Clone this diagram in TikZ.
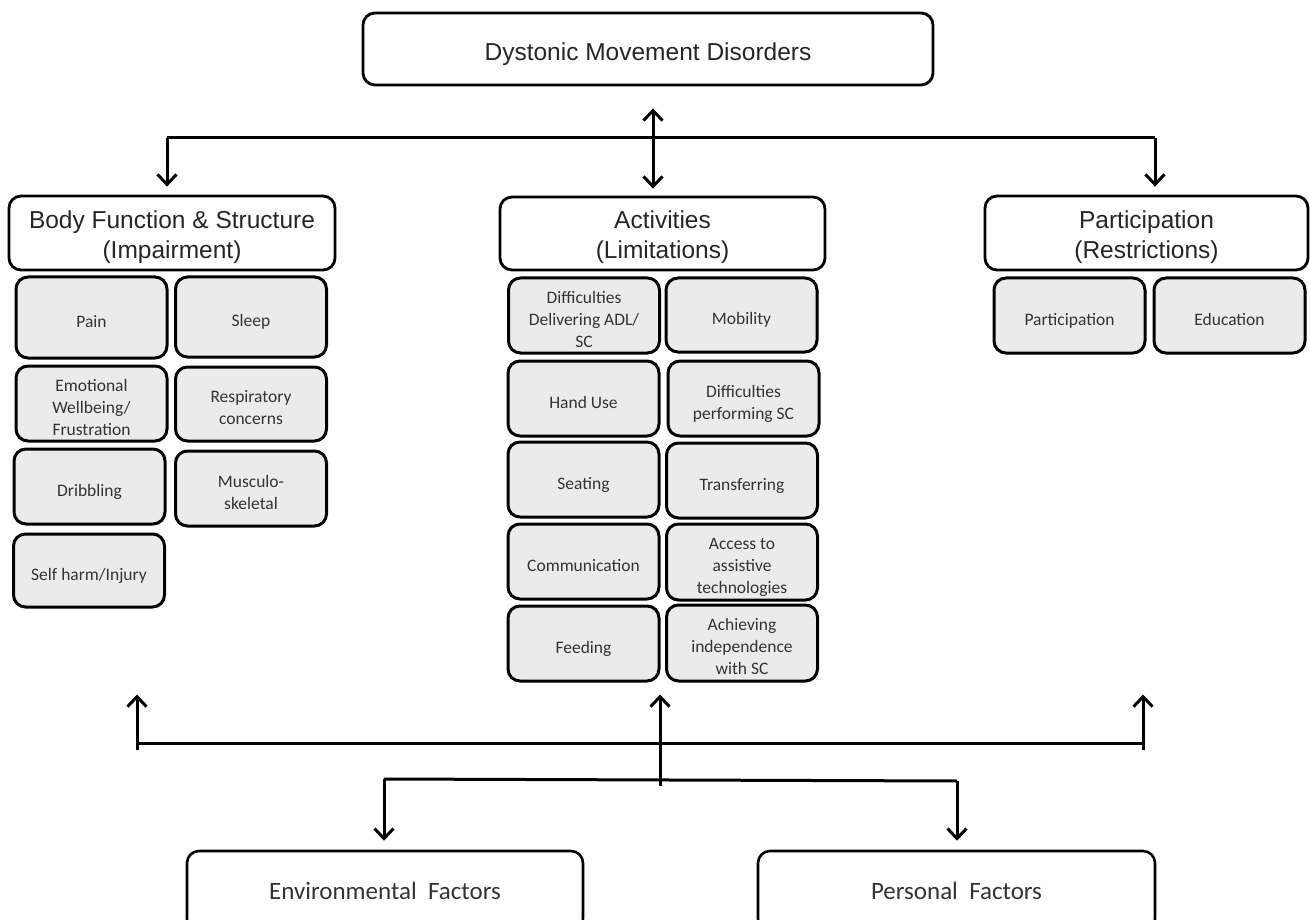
\documentclass[tikz,border=0pt]{standalone}
\usepackage{fontspec}
\setmainfont{Liberation Sans}
\newfontfamily\calfont{Carlito}
\usetikzlibrary{arrows.meta,calc}
\newcommand\myTopS{\rule{0pt}{29pt}}
\newcommand\myHeadS{\rule{0pt}{26pt}}
\newcommand\mySmS{\rule{0pt}{24pt}}
\newcommand\myDep{\rule[-5pt]{0pt}{5pt}}
\begin{document}
\begin{tikzpicture}[x=1pt,y=-1pt,
  hbox/.style={draw, line width=2.8pt, rounded corners=12pt, fill=white, align=center, text=black!85,
     font=\fontsize{24.5}{30}\selectfont, inner sep=0pt},
  sbox/.style={draw, line width=3pt, rounded corners=12pt, fill=black!8, align=center, text=black!80,
     minimum width=151pt, inner sep=0pt, font=\calfont\fontsize{17.5}{22}\selectfont},
  fbox/.style={draw, line width=2.6pt, rounded corners=12pt, fill=white, text=black!80,
     minimum width=396pt, minimum height=80pt, inner sep=0pt, font=\calfont\fontsize{25}{30}\selectfont},
  conn/.style={line width=3pt},
  arr/.style={line width=3pt, -{Straight Barb[length=10pt,width=19pt]}},
  arrb/.style={line width=3pt, {Straight Barb[length=10pt,width=19pt]}-{Straight Barb[length=10pt,width=19pt]}}
]
\clip (0,0) rectangle (1310,920);
\fill[white] (0,0) rectangle (1310,920);

% top
\node[hbox, minimum width=570pt, minimum height=72pt] (top) at (648,49) {\myTopS Dystonic Movement Disorders\myDep};

% headings
\node[hbox, minimum width=326pt, minimum height=74pt] (body) at (172,233) {\myHeadS Body Function \& Structure\\(Impairment)\myDep};
\node[hbox, minimum width=325pt, minimum height=73pt] (act) at (662.5,233.5) {\myHeadS Activities\\(Limitations)\myDep};
\node[hbox, minimum width=323pt, minimum height=74pt] (part) at (1146.5,233) {\myHeadS Participation\\(Restrictions)\myDep};

% body function boxes
\node[sbox, minimum height=81pt] (pain) at (91.5,317.5) {\mySmS Pain\myDep};
\node[sbox, minimum height=80pt] (sleep) at (251,317) {\mySmS Sleep\myDep};
\node[sbox, minimum height=75pt] (emo) at (91.5,403.5) {\mySmS Emotional\\Wellbeing/\\Frustration\myDep};
\node[sbox, minimum height=74pt] (resp) at (251,404) {\mySmS Respiratory\\concerns\myDep};
\node[sbox, minimum height=75pt] (drib) at (89.5,486.5) {\mySmS Dribbling\myDep};
\node[sbox, minimum height=75pt] (musc) at (251,488.5) {\mySmS Musculo-\\skeletal\myDep};
\node[sbox, minimum height=73pt] (self) at (89,570.5) {\mySmS Self harm/Injury\myDep};

% activities boxes
\node[sbox, minimum height=75pt] (deliv) at (584,315.5) {\mySmS Difficulties\\Delivering ADL/\\SC\myDep};
\node[sbox, minimum height=74pt] (mob) at (741.5,315) {\mySmS Mobility\myDep};
\node[sbox, minimum height=75pt] (hand) at (583.5,398.5) {\mySmS Hand Use\myDep};
\node[sbox, minimum height=75pt] (perf) at (743.5,398.5) {\mySmS Difficulties\\performing SC\myDep};
\node[sbox, minimum height=75pt] (seat) at (583.5,479.5) {\mySmS Seating\myDep};
\node[sbox, minimum height=75pt] (trans) at (742,480.5) {\mySmS Transferring\myDep};
\node[sbox, minimum height=75pt] (comm) at (583.5,561.5) {\mySmS Communication\myDep};
\node[sbox, minimum height=76pt] (acc) at (742,562) {\mySmS Access to\\assistive\\technologies\myDep};
\node[sbox, minimum height=75pt] (feed) at (583.5,643.5) {\mySmS Feeding\myDep};
\node[sbox, minimum height=76pt] (ach) at (742,643) {\mySmS Achieving\\independence\\with SC\myDep};

% participation boxes
\node[sbox, minimum height=75pt] (parti) at (1069.5,315.5) {\mySmS Participation\myDep};
\node[sbox, minimum height=75pt] (edu) at (1229.5,315.5) {\mySmS Education\myDep};

% factors
\node[fbox] (env) at (385,891) {Environmental\ \ Factors};
\node[fbox, minimum width=397pt] (pers) at (956.5,891) {Personal\ \ Factors};

% top connectors
\coordinate (dx) at (653,0);
\coordinate (hL) at (167,138);
\coordinate (hR) at (1155,138);
\draw[arrb, shorten <=22pt, shorten >=7pt] (dx |- top.south) -- (dx |- act.north);
\draw[conn] (hL) -- (hR);
\draw[arr, shorten >=8pt] (hL) -- (hL |- body.north);
\draw[arr, shorten >=8pt] (hR) -- (hR |- part.north);

% bottom connectors
\coordinate (bL) at (137,750);
\coordinate (bR) at (1143,750);
\coordinate (lL) at (137,743);
\coordinate (lR) at (1143,743);
\coordinate (mid) at (660,786);
\coordinate (eL) at (384,779);
\coordinate (eR) at (957,781);
\draw[conn] (lL) -- (lR);
\draw[arr, shorten >=12pt] (bL) -- (bL |- feed.south);
\draw[arr, shorten >=12pt] (bR) -- (bR |- feed.south);
\draw[arr, shorten >=12pt] (mid) -- (mid |- feed.south);
\draw[conn] (eL) -- (eR);
\draw[arr, shorten >=9pt] (eL) -- (eL |- env.north);
\draw[arr, shorten >=9pt] (eR) -- (eR |- pers.north);
\end{tikzpicture}
\end{document}
